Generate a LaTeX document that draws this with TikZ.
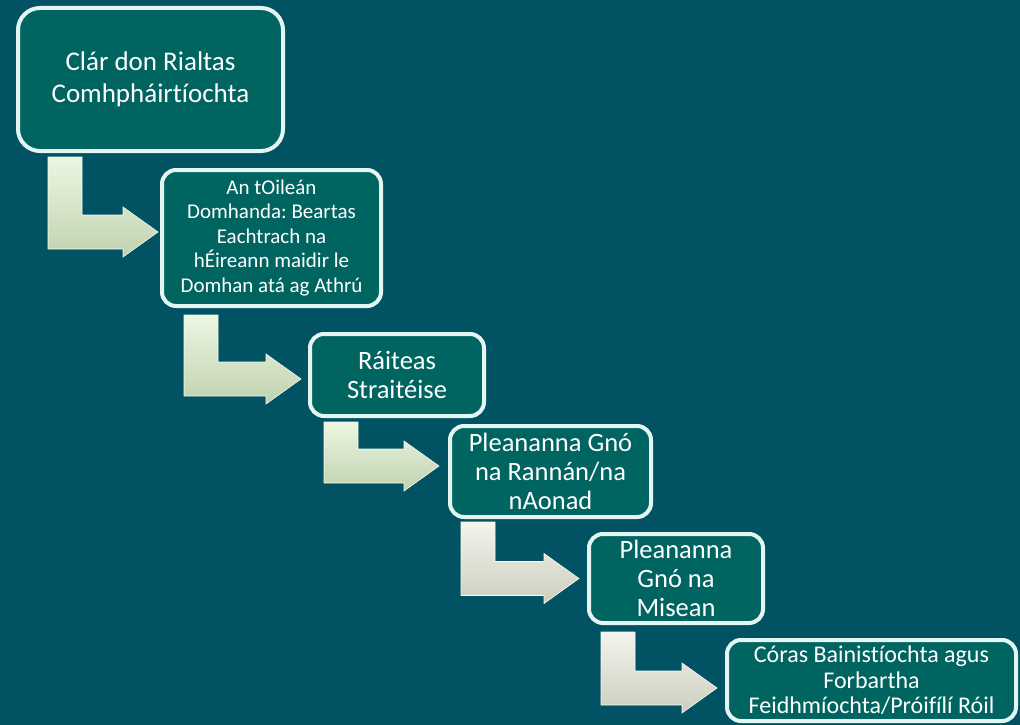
\documentclass[tikz,border=0pt]{standalone}
\usepackage{fontspec}
\setmainfont{Carlito}[Ligatures=NoCommon]
\usetikzlibrary{calc}
\definecolor{bgteal}{RGB}{1,83,100}
\definecolor{boxteal}{RGB}{0,100,97}
\definecolor{boxrim}{RGB}{228,246,242}
\tikzset{
	stagebox/.style={draw=boxrim,line width=4pt,fill=boxteal,text=white,rounded corners=14pt,align=center,inner sep=0pt},
	arrowgreen/.style={top color={rgb,255:red,236;green,246;blue,226},bottom color={rgb,255:red,192;green,210;blue,176},draw={rgb,255:red,244;green,250;blue,238},line width=0.6pt},
	arrowgrey/.style={top color={rgb,255:red,244;green,244;blue,236},bottom color={rgb,255:red,204;green,206;blue,190},draw={rgb,255:red,250;green,250;blue,244},line width=0.6pt}
}
% bent arrow: source, target, start shift, tip shift, style
\newcommand{\bentarrow}[5]{%
	\coordinate (s) at ($(#1.south west)+(#3)$);
	\coordinate (t) at ($(#2.west)+(#4)$);
	\path[#5] (s) -- ++(34,0) |- ($(t)+(-35,-17)$) -- ++(0,-8) -- (t) -- ++(-35,25) -- ++(0,-8) -| (s) -- cycle;
}
\frenchspacing
\begin{document}
\begin{tikzpicture}[x=1pt,y=-1pt]
	\useasboundingbox (0,0) rectangle (1020,725);
	\fill[bgteal] (0,0) rectangle (1020,725);
	\node[stagebox,rounded corners=22pt,minimum width=265pt,minimum height=143pt,font=\fontsize{27}{32}\selectfont] (plan) at (150.5,79.5) {Clár don Rialtas\\Comhpháirtíochta};
	\node[stagebox,minimum width=219pt,minimum height=136pt,font=\fontsize{21}{24.5}\selectfont] (beartas) at (271.5,238) {An tOileán\\Domhanda: Beartas\\Eachtrach na\\hÉireann maidir le\\Domhan atá ag Athrú};
	\node[stagebox,minimum width=174pt,minimum height=82pt,font=\fontsize{26.5}{29}\selectfont] (raiteas) at (397,375) {Ráiteas\\Straitéise};
	\node[stagebox,minimum width=201pt,minimum height=91pt,font=\fontsize{26.5}{29}\selectfont] (rannan) at (550.5,471.5) {Pleananna Gnó\\na Rannán/na\\nAonad};
	\node[stagebox,minimum width=174pt,minimum height=89pt,font=\fontsize{26.5}{29}\selectfont] (misean) at (676,578.5) {Pleananna\\Gnó na\\Misean};
	\node[stagebox,minimum width=289pt,minimum height=81pt,font=\fontsize{24}{25.5}\selectfont] (coras) at (871.5,680.5) {Córas Bainistíochta agus\\Forbartha\\Feidhmíochta/Próifílí Róil};
	% arrows between the stages
	\bentarrow{plan}{beartas}{32,4}{-2,-6}{arrowgreen}
	\bentarrow{beartas}{raiteas}{24,7}{-7,4}{arrowgreen}
	\bentarrow{raiteas}{rannan}{16,4}{-9,-5.5}{arrowgreen}
	\bentarrow{rannan}{misean}{13,3}{-8,0}{arrowgrey}
	\bentarrow{misean}{coras}{14,7}{-8,7.5}{arrowgrey}
\end{tikzpicture}
\end{document}
